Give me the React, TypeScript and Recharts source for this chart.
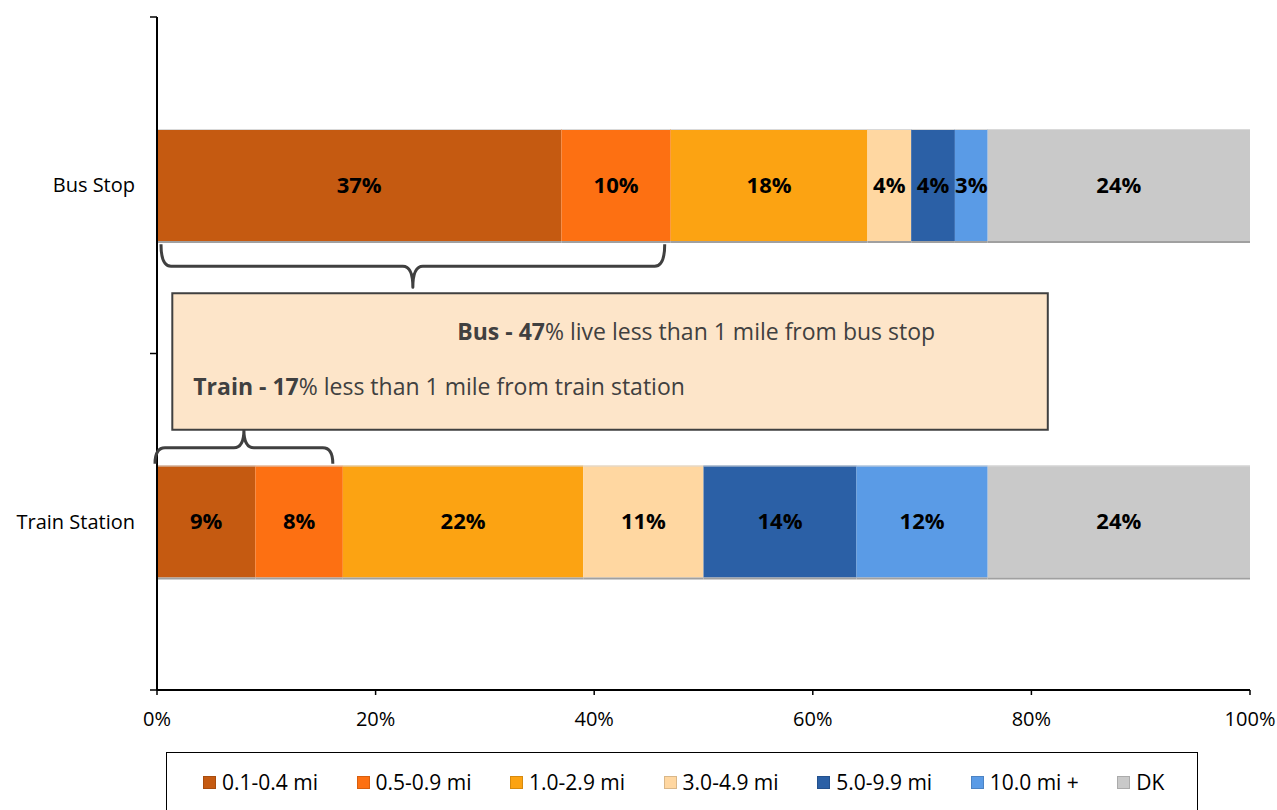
import React from 'react';
import { BarChart, Bar, XAxis, YAxis, LabelList } from 'recharts';

const categories = ['Bus Stop', 'Train Station'];
const seriesNames = ['0.1-0.4 mi', '0.5-0.9 mi', '1.0-2.9 mi', '3.0-4.9 mi', '5.0-9.9 mi', '10.0 mi +', 'DK'];
const seriesColors = ['#C55A11', '#FD7012', '#FCA312', '#FFD7A1', '#2B60A6', '#5A9BE6', '#C9C9C9'];
const busStopValues = [37, 10, 18, 4, 4, 3, 24];
const trainStationValues = [9, 8, 22, 11, 14, 12, 24];
const xTicks = [0, 20, 40, 60, 80, 100];
const busWithinMile = 47;
const trainWithinMile = 17;

const seriesKeys = seriesNames.map((_, i) => `s${i}`);
const valuesByCategory = [busStopValues, trainStationValues];
const data = categories.map((name, ci) => {
  const row: Record<string, string | number> = { name };
  seriesKeys.forEach((k, si) => {
    row[k] = valuesByCategory[ci][si];
  });
  return row;
});

const W = 1277;
const H = 810;
const M = { top: 17, right: 27, bottom: 80, left: 7 };
const Y_AXIS_W = 150;
const X_AXIS_H = 40;
const PLOT_LEFT = M.left + Y_AXIS_W;
const PLOT_RIGHT = W - M.right;
const PLOT_TOP = M.top;
const PLOT_BOTTOM = H - M.bottom - X_AXIS_H;
const BAR_SIZE = 112;
const FONT = '"Open Sans", sans-serif';

const xScale = (v: number) => PLOT_LEFT + (v / 100) * (PLOT_RIGHT - PLOT_LEFT);
const bandH = (PLOT_BOTTOM - PLOT_TOP) / categories.length;
const barTop = (i: number) => PLOT_TOP + bandH * i + (bandH - BAR_SIZE) / 2;

const BarShape = (props: any) => {
  const { x, y, width, height, fill } = props;
  if (!width || width <= 0) return null;
  return (
    <g>
      <rect x={x} y={y} width={width} height={height} fill={fill} />
      <line x1={x} x2={x + width} y1={y + 0.5} y2={y + 0.5} stroke="#d9d9d9" strokeWidth={1} />
      <line x1={x} x2={x + width} y1={y + height + 1} y2={y + height + 1} stroke="#a0a0a0" strokeWidth={2} />
    </g>
  );
};

// curly brace from x1 to x2: ends at yEnd, long line at yLine, centre tip at yTip
const bracePath = (x1: number, x2: number, yEnd: number, yLine: number, yTip: number) => {
  const xc = (x1 + x2) / 2;
  const r = 10;
  return [
    `M ${x1} ${yEnd}`,
    `Q ${x1} ${yLine} ${x1 + r} ${yLine}`,
    `L ${xc - r} ${yLine}`,
    `Q ${xc} ${yLine} ${xc} ${yTip}`,
    `Q ${xc} ${yLine} ${xc + r} ${yLine}`,
    `L ${x2 - r} ${yLine}`,
    `Q ${x2} ${yLine} ${x2} ${yEnd}`,
  ].join(' ');
};

const Overlay = () => {
  const busBottom = barTop(0) + BAR_SIZE;
  const trainTop = barTop(1);
  const boxX1 = xScale(1.4);
  const boxX2 = xScale(81.5);
  const boxY1 = busBottom + 52;
  const boxY2 = trainTop - 36;
  const stroke = '#404040';
  return (
    <svg
      width={W}
      height={H}
      style={{ position: 'absolute', left: 0, top: 0, pointerEvents: 'none' }}
    >
      {[0, 1, 2].map((i) => (
        <line
          key={i}
          x1={PLOT_LEFT - 7}
          x2={PLOT_LEFT}
          y1={PLOT_TOP + bandH * i}
          y2={PLOT_TOP + bandH * i}
          stroke="#000"
          strokeWidth={1.5}
        />
      ))}
      <path
        d={bracePath(xScale(0) + 4, xScale(busWithinMile) - 6, busBottom + 3, busBottom + 25, busBottom + 46)}
        fill="none"
        stroke={stroke}
        strokeWidth={3}
        strokeLinejoin="round"
      />
      <path
        d={bracePath(xScale(0) - 2, xScale(trainWithinMile) - 10, trainTop - 2, trainTop - 18, trainTop - 36)}
        fill="none"
        stroke={stroke}
        strokeWidth={3}
        strokeLinejoin="round"
      />
      <rect
        x={boxX1}
        y={boxY1}
        width={boxX2 - boxX1}
        height={boxY2 - boxY1}
        fill="#FDE5C9"
        stroke={stroke}
        strokeWidth={2}
      />
      <text x={boxX1 + 285} y={boxY1 + 47} fontFamily={FONT} fontSize={23} fill={stroke}>
        <tspan fontWeight="bold">{`Bus - ${busWithinMile}`}</tspan>
        <tspan>% live less than 1 mile from bus stop</tspan>
      </text>
      <text x={boxX1 + 21} y={boxY1 + 102} fontFamily={FONT} fontSize={23} fill={stroke}>
        <tspan fontWeight="bold">{`Train - ${trainWithinMile}`}</tspan>
        <tspan>% less than 1 mile from train station</tspan>
      </text>
    </svg>
  );
};

const LegendBox = () => (
  <div
    style={{
      position: 'absolute',
      left: 166,
      top: 752,
      width: 1032,
      height: 70,
      border: '1px solid #000',
      boxSizing: 'border-box',
      display: 'flex',
      alignItems: 'flex-start',
      paddingLeft: 36,
      paddingTop: 15,
      gap: 38.5,
      fontFamily: FONT,
      fontSize: 21,
      color: '#000',
      background: '#fff',
    }}
  >
    {seriesNames.map((n, i) => (
      <div key={n} style={{ display: 'flex', alignItems: 'center', whiteSpace: 'nowrap' }}>
        <span
          style={{
            display: 'inline-block',
            width: 13,
            height: 13,
            background: seriesColors[i],
            border: '1px solid rgba(0,0,0,0.15)',
            boxSizing: 'border-box',
            marginRight: 6,
          }}
        />
        <span>{n}</span>
      </div>
    ))}
  </div>
);

export default function App() {
  return (
    <div style={{ position: 'absolute', left: 0, top: 0, width: W, height: H, background: '#fff' }}>
      <BarChart width={W} height={H} data={data} layout="vertical" margin={M} barSize={BAR_SIZE}>
        <XAxis
          type="number"
          domain={[0, 100]}
          ticks={xTicks}
          tickFormatter={(v: number) => `${v}%`}
          height={X_AXIS_H}
          axisLine={{ stroke: '#000', strokeWidth: 2 }}
          tickLine={{ stroke: '#000', strokeWidth: 1.5 }}
          tickSize={5}
          tickMargin={17}
          tick={{ fill: '#000', fontSize: 20, fontFamily: FONT }}
          interval={0}
        />
        <YAxis
          type="category"
          dataKey="name"
          width={Y_AXIS_W}
          axisLine={{ stroke: '#000', strokeWidth: 2 }}
          tickLine={false}
          tickSize={6}
          tickMargin={16}
          tick={{ fill: '#000', fontSize: 20, fontFamily: FONT }}
        />
        {seriesKeys.map((k, i) => (
          <Bar
            key={k}
            dataKey={k}
            name={seriesNames[i]}
            stackId="a"
            fill={seriesColors[i]}
            isAnimationActive={false}
            shape={BarShape}
          >
            <LabelList
              dataKey={k}
              position="center"
              formatter={(v: any) => `${v}%`}
              fill="#000"
              fontSize={22}
              fontWeight="bold"
              fontFamily={FONT}
            />
          </Bar>
        ))}
      </BarChart>
      <Overlay />
      <LegendBox />
    </div>
  );
}
